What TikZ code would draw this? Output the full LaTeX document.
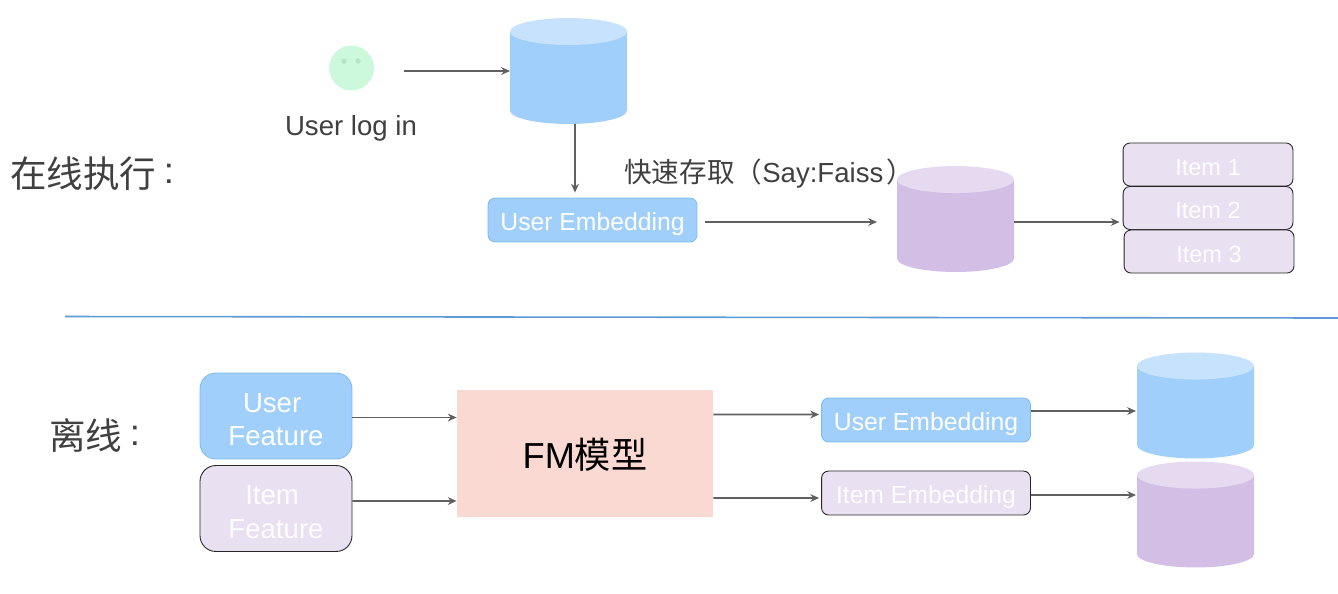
\documentclass[tikz,border=0pt]{standalone}
\usepackage{fontspec}
\setmainfont{Liberation Sans}
\newfontfamily\cjk{Noto Sans CJK SC}
\usepackage{tikz}
\usetikzlibrary{arrows.meta,positioning,calc}
\definecolor{DbBlue}{HTML}{A0CFFC}
\definecolor{DbBlueTop}{HTML}{C7E2FC}
\definecolor{DbPurple}{HTML}{D3BFE5}
\definecolor{DbPurpleTop}{HTML}{E6DAF1}
\definecolor{BoxBlue}{HTML}{A0CFFB}
\definecolor{BoxBlueLine}{HTML}{7DBBF5}
\definecolor{BoxPurple}{HTML}{E9E0F2}
\definecolor{BoxRose}{HTML}{FBD9D3}
\definecolor{FaceGreen}{HTML}{CCF9DC}
\definecolor{FaceEye}{HTML}{B5E5C5}
\definecolor{ArrowGray}{HTML}{606060}
\definecolor{TextGray}{HTML}{404040}
\definecolor{RuleBlue}{HTML}{5B9BD5}
\tikzset{
  figlabel/.style={font=\fontsize{15.7}{19}\selectfont, text=TextGray, inner sep=0pt},
  figtitle/.style={font=\fontsize{20.8}{24}\selectfont\cjk, text=TextGray, inner sep=0pt},
  boxwhite/.style={font=\fontsize{15.7}{19}\selectfont, text=white, inner sep=0pt},
  embtext/.style={font=\fontsize{14.07}{17}\selectfont, minimum width=118.9pt, minimum height=25pt, rounded corners=4pt},
  itemtext/.style={font=\fontsize{13.4}{16}\selectfont, minimum width=96.7pt, minimum height=24.5pt, rounded corners=4pt},
  feattext/.style={minimum width=86.5pt, minimum height=48.9pt, rounded corners=9pt},
  userbox/.style={boxwhite, fill=BoxBlue, draw=BoxBlueLine, line width=0.5pt},
  itembox/.style={boxwhite, fill=BoxPurple, draw=black!85, line width=0.5pt, text=white!90!BoxPurple},
  dbnode/.style={minimum width=66.6pt, minimum height=60.3pt, inner sep=0pt, outer sep=0pt},
  figarrow/.style={-{Stealth[length=5pt,width=4.4pt]}, line width=1.1pt, draw=ArrowGray}
}
% body and lid of a database drum, over a named node
\newcommand{\dbdrum}[3]{
  \fill[#2] ($(#1.north west)+(0,13.5)$) -- ($(#1.south west)+(0,-13.5)$) arc[start angle=180, end angle=360, x radius=33.3pt, y radius=7.68pt] -- ($(#1.north east)+(0,13.5)$) -- cycle;
  \fill[#3] ($(#1.north)+(0,13.5)$) ellipse[x radius=33.3pt, y radius=7.68pt];
}
% text whose baseline sits a given distance under the node centre
\newcommand{\lowtext}[2]{\smash{\raisebox{-#1}{#2}}}
\newcommand{\twolines}[2]{\lowtext{16.8pt}{\parbox[b]{80pt}{\centering #1\kern.28em\\#2}}}
\begin{document}
\begin{tikzpicture}[x=0.02cm, y=-0.02cm]
\useasboundingbox (0,0) rectangle (1338,593);
% online
\node[figtitle, anchor=base west] (online) at (10,187.5) {在线执行\hspace{0.2em}\raisebox{2.4pt}{\rmfamily :}};
\node[circle, fill=FaceGreen, minimum size=25.6pt, inner sep=0pt] (face) at (351.5,68) {};
\fill[FaceEye] (344,61) circle (2.6) (358,61) circle (2.6);
\node[figlabel, anchor=base] (login) at (351,135) {User log in};
\coordinate (loginout) at (404,71);
\node[dbnode] (dbuser) at (568.5,71) {};
\dbdrum{dbuser}{DbBlue}{DbBlueTop}
\node[userbox, embtext] (ue) at (592.5,220) {\lowtext{6pt}{User Embedding}};
\node[figlabel, anchor=base west] (faiss) at (624,182) {{\cjk 快速存取（}Say:Faiss\hspace{0.1em}{\cjk ）}};
\node[dbnode] (dbitem) at (955.5,219) {};
\dbdrum{dbitem}{DbPurple}{DbPurpleTop}
\node[itembox, itemtext] (item1) at (1208,164.5) {\lowtext{6pt}{Item 1}};
\node[itembox, itemtext] (item2) at (1208,208) {\lowtext{6pt}{Item 2}};
\node[itembox, itemtext] (item3) at (1209,251.5) {\lowtext{6pt}{Item 3}};
\draw[figarrow] (loginout) -- (dbuser.west |- loginout);
\draw[figarrow] ($(dbuser.south)+(6.5,0)$) -- ($(ue.north)+(-17.5,-5)$);
\draw[figarrow] ($(ue.east)+(8,2)$) -- ($(dbitem.west)+(-20,3)$);
\draw[figarrow] ($(dbitem.east)+(0,3)$) -- ($(item2.west)+(-3,14)$);
% rule
\coordinate (rulea) at (65,316.5);
\coordinate (ruleb) at (1338,318);
\draw[RuleBlue, line width=0.9pt] (rulea) -- (ruleb);
% offline
\node[figtitle, anchor=base west] (offline) at (49,449.5) {离线\hspace{0.2em}\raisebox{2.4pt}{\rmfamily :}};
\node[userbox, feattext] (ufeat) at (276,416) {\twolines{User}{Feature}};
\node[itembox, feattext] (ifeat) at (276,508.5) {\twolines{Item}{Feature}};
\node[fill=BoxRose, minimum width=145.7pt, minimum height=72.3pt, inner sep=0pt, font=\fontsize{20.6}{24}\selectfont, text=black] (fm) at (585,453.5) {\lowtext{8.3pt}{FM{\cjk 模型}}};
\node[userbox, embtext] (ue2) at (926,420) {\lowtext{5.7pt}{User Embedding}};
\node[itembox, embtext] (ie2) at (926,493) {\lowtext{5.9pt}{Item Embedding}};
\node[dbnode] (dbuser2) at (1195.5,405.5) {};
\dbdrum{dbuser2}{DbBlue}{DbBlueTop}
\node[dbnode] (dbitem2) at (1195.5,514.5) {};
\dbdrum{dbitem2}{DbPurple}{DbPurpleTop}
\draw[figarrow] ($(ufeat.east)+(0,1.5)$) -- ($(fm.west)+(0,-36)$);
\draw[figarrow] ($(ifeat.east)+(0,-7.5)$) -- ($(fm.west)+(0,47.5)$);
\draw[figarrow] ($(fm.east)+(0,-39)$) -- ($(ue2.west)+(-2,-5.5)$);
\draw[figarrow] ($(fm.east)+(0,44.5)$) -- ($(ie2.west)+(-2,5)$);
\draw[figarrow] ($(ue2.east)+(0,-9)$) -- ($(dbuser2.west)+(-1,5.5)$);
\draw[figarrow] ($(ie2.east)+(0,2)$) -- ($(dbitem2.west)+(-1,-19.5)$);
\end{tikzpicture}
\end{document}
